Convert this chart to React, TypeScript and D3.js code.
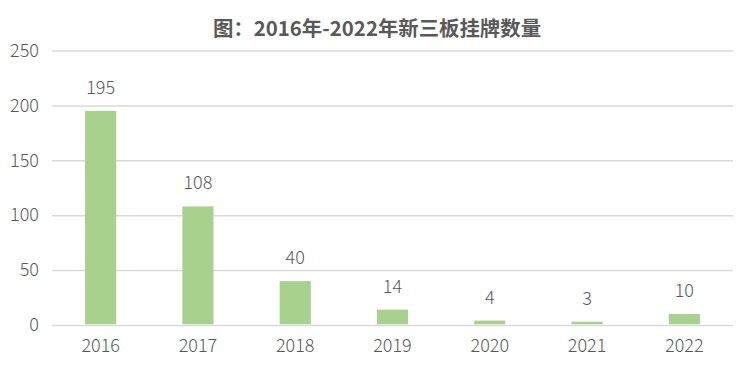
import React, { useEffect, useRef } from "react";
import * as d3 from "d3";

const years = ["2016", "2017", "2018", "2019", "2020", "2021", "2022"];
const listings = [195, 108, 40, 14, 4, 3, 10];
const yTicks = [0, 50, 100, 150, 200, 250];
const title = "图：2016年-2022年新三板挂牌数量";

const width = 751;
const height = 368;
const margin = { top: 50, right: 18, bottom: 43, left: 52 };
const textColor = "#595959";
const barColor = "#a9d18e";
const gridColor = "#d9d9d9";
const numFont = "'Noto Sans CJK SC', 'Noto Sans', sans-serif";

function App() {
  const svgRef = useRef<SVGSVGElement | null>(null);

  useEffect(() => {
    const svg = d3.select(svgRef.current);
    svg.selectAll("*").remove();

    const x = d3
      .scaleBand()
      .domain(years)
      .range([margin.left, width - margin.right])
      .paddingInner(0.68)
      .paddingOuter(0.34);
    const y = d3
      .scaleLinear()
      .domain([0, 250])
      .range([height - margin.bottom, margin.top + 0.5]);

    // title
    svg
      .append("text")
      .attr("x", 377)
      .attr("y", 36)
      .attr("text-anchor", "middle")
      .attr("font-family", numFont)
      .attr("font-weight", "bold")
      .attr("font-size", 20.4)
      .attr("fill", textColor)
      .text(title);

    // gridlines + y labels
    const yAxis = (g: any) =>
      g
        .attr("transform", `translate(${margin.left},0)`)
        .call(
          d3
            .axisLeft(y)
            .tickValues(yTicks)
            .tickSize(-(width - margin.left - margin.right))
            .tickPadding(13)
        )
        .call((g: any) => g.select(".domain").remove())
        .call((g: any) =>
          g.selectAll(".tick line").attr("stroke", gridColor).attr("stroke-width", 1.5)
        )
        .call((g: any) =>
          g
            .selectAll(".tick text")
            .attr("fill", textColor)
            .attr("font-size", 18)
            .attr("font-weight", 300)
            .attr("font-family", numFont)
        );
    svg.append("g").call(yAxis);

    // bars
    svg
      .append("g")
      .selectAll("rect")
      .data(listings)
      .join("rect")
      .attr("x", (d, i) => x(years[i]) as number)
      .attr("y", (d) => y(d))
      .attr("width", x.bandwidth())
      .attr("height", (d) => y(0) - y(d) - 0.75)
      .attr("fill", barColor);

    // value labels
    svg
      .append("g")
      .selectAll("text")
      .data(listings)
      .join("text")
      .attr("x", (d, i) => (x(years[i]) as number) + x.bandwidth() / 2)
      .attr("y", (d) => y(d) - 17)
      .attr("text-anchor", "middle")
      .attr("font-size", 18)
      .attr("font-weight", 300)
      .attr("font-family", numFont)
      .attr("fill", textColor)
      .text((d) => d);

    // x labels
    const xAxis = (g: any) =>
      g
        .attr("transform", `translate(0,${height - margin.bottom})`)
        .call(d3.axisBottom(x).tickSize(0).tickPadding(14))
        .call((g: any) => g.select(".domain").remove())
        .call((g: any) =>
          g
            .selectAll(".tick text")
            .attr("fill", textColor)
            .attr("font-size", 18)
            .attr("font-weight", 300)
            .attr("font-family", numFont)
        );
    svg.append("g").call(xAxis);
  }, []);

  return (
    <div style={{ margin: -8 }}>
      <svg ref={svgRef} width={width} height={height} style={{ display: "block", background: "#fff" }} />
    </div>
  );
}

export default App;
